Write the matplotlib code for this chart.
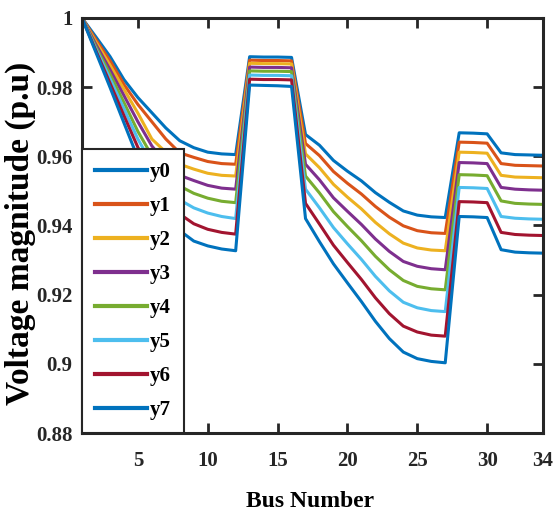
import matplotlib
matplotlib.use('agg')
import matplotlib.pyplot as plt
import numpy as np

plt.rcParams['font.family'] = ['Liberation Serif', 'DejaVu Serif']
plt.rcParams['font.weight'] = 'bold'

bus = np.arange(1, 35)

y0 = [1.0, .9945, .9889, .9822, .9770, .9726, .9682, .9645, .9625, .9612, .9607, .9605,
      .9888, .9887, .9887, .9886, .9663, .9632, .9588, .9557, .9529, .9495, .9467, .9442,
      .9430, .9425, .9423, .9668, .9667, .9665, .9610, .9605, .9604, .9603]
y1 = [1.0, .9937, .9877, .9808, .9750, .9700, .9650, .9610, .9597, .9585, .9579, .9577,
      .9878, .9877, .9877, .9876, .9637, .9602, .9556, .9522, .9491, .9455, .9424, .9399,
      .9385, .9379, .9377, .9641, .9640, .9638, .9579, .9574, .9573, .9572]
y2 = [1.0, .9930, .9864, .9794, .9725, .9650, .9612, .9577, .9563, .9551, .9545, .9543,
      .9869, .9868, .9868, .9867, .9607, .9567, .9519, .9482, .9448, .9409, .9376, .9349,
      .9335, .9329, .9327, .9612, .9611, .9609, .9545, .9540, .9539, .9538]
y3 = [1.0, .9923, .9851, .9776, .9700, .9630, .9582, .9545, .9530, .9516, .9508, .9505,
      .9858, .9857, .9857, .9856, .9577, .9532, .9480, .9441, .9403, .9361, .9325, .9296,
      .9282, .9275, .9272, .9582, .9581, .9579, .9510, .9505, .9503, .9502]
y4 = [1.0, .9916, .9838, .9756, .9672, .9602, .9555, .9514, .9493, .9479, .9470, .9466,
      .9847, .9846, .9846, .9845, .9543, .9494, .9440, .9397, .9356, .9311, .9272, .9241,
      .9224, .9217, .9214, .9547, .9546, .9544, .9471, .9464, .9462, .9461]
y5 = [1.0, .9910, .9825, .9738, .9650, .9578, .9522, .9474, .9451, .9436, .9426, .9420,
      .9835, .9834, .9834, .9833, .9505, .9451, .9394, .9347, .9302, .9253, .9211, .9178,
      .9162, .9154, .9151, .9510, .9509, .9507, .9426, .9421, .9419, .9418]
y6 = [1.0, .9905, .9812, .9718, .9626, .9550, .9488, .9433, .9405, .9389, .9380, .9375,
      .9823, .9822, .9822, .9821, .9464, .9404, .9343, .9293, .9244, .9191, .9145, .9109,
      .9092, .9083, .9080, .9469, .9468, .9466, .9380, .9374, .9372, .9371]
y7 = [1.0, .9900, .9800, .9697, .9595, .9515, .9445, .9385, .9355, .9341, .9332, .9327,
      .9806, .9805, .9804, .9802, .9420, .9353, .9289, .9234, .9180, .9123, .9073, .9034,
      .9015, .9007, .9003, .9426, .9425, .9423, .9330, .9323, .9321, .9320]

series = [y0, y1, y2, y3, y4, y5, y6, y7]
labels = ['y0', 'y1', 'y2', 'y3', 'y4', 'y5', 'y6', 'y7']
# matlab default order, wraps around for the 8th line
colors = ['#0072BD', '#D95319', '#EDB120', '#7E2F8E', '#77AC30', '#4DBEEE', '#A2142F', '#0072BD']

xticks = [5, 10, 15, 20, 25, 30, 34]
yticks = [0.88, 0.90, 0.92, 0.94, 0.96, 0.98, 1.0]
ytick_labels = ['0.88', '0.9', '0.92', '0.94', '0.96', '0.98', '1']

fig = plt.figure(figsize=(5.57, 5.21), dpi=100)
ax = fig.add_axes([0.1472, 0.1689, 0.8277, 0.7966])

for y, lab, c in zip(series, labels, colors):
    ax.plot(bus, y, color=c, linewidth=2.2, label=lab)

ax.set_xlim(1, 34)
ax.set_ylim(0.88, 1.0)
ax.set_xticks(xticks)
ax.set_yticks(yticks)
ax.set_yticklabels(ytick_labels)

for s in ax.spines.values():
    s.set_linewidth(2.2)
    s.set_color('#262626')
ax.tick_params(direction='in', length=7, width=2, colors='#262626',
               top=True, right=True, labelsize=15)
ax.tick_params(axis='x', pad=13)
ax.tick_params(axis='y', pad=7)

ax.set_xlabel('Bus Number', fontsize=17, fontweight='bold')
ax.set_ylabel('Voltage magnitude (p.u)', fontsize=24, fontweight='bold')
ax.xaxis.set_label_coords(0.495, -0.14)
ax.yaxis.set_label_coords(-0.10, 0.482)

leg = ax.legend(loc='lower left', bbox_to_anchor=(0, 0), borderaxespad=0,
                fontsize=15, handlelength=2.5, handletextpad=0.15,
                labelspacing=0.67, borderpad=0.62, fancybox=False,
                framealpha=1, edgecolor='#262626')
leg.get_frame().set_linewidth(1.5)
for h in leg.legend_handles:
    h.set_linewidth(3)

plt.savefig('out.png', dpi=100)
